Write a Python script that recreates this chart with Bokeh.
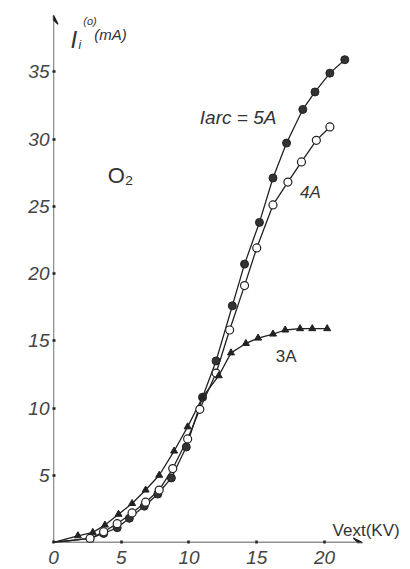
from bokeh.plotting import figure
from bokeh.models import Range1d, FixedTicker, Label, Arrow, VeeHead
from bokeh.embed import file_html
from bokeh.resources import INLINE

# Data (Vext in kV, Ii in mA)
v_5a = [0, 2.7, 3.7, 4.7, 5.6, 6.7, 7.7, 8.7, 9.8, 11.0, 12.0, 13.2, 14.1, 15.2, 16.2, 17.2, 18.4, 19.3, 20.4, 21.5]
i_5a = [0, 0.3, 0.67, 1.1, 1.8, 2.7, 3.6, 4.8, 7.1, 10.8, 13.5, 17.6, 20.7, 23.8, 27.1, 29.7, 32.2, 33.5, 34.9, 35.9]

v_4a = [0, 2.7, 3.7, 4.7, 5.8, 6.8, 7.8, 8.8, 9.9, 10.8, 12.0, 13.0, 14.1, 15.0, 16.2, 17.3, 18.3, 19.4, 20.4]
i_4a = [0, 0.3, 0.8, 1.4, 2.2, 3.0, 3.9, 5.5, 7.7, 9.9, 12.6, 15.8, 19.1, 21.9, 25.1, 26.8, 28.3, 29.9, 30.9]

v_3a = [0, 1.8, 2.9, 3.8, 4.8, 5.8, 6.8, 7.8, 8.9, 9.9, 11.0, 12.2, 13.1, 14.2, 15.1, 16.2, 17.1, 18.2, 19.1, 20.2]
i_3a = [0, 0.5, 0.75, 1.3, 2.1, 2.9, 3.9, 5.0, 6.8, 8.6, 10.8, 12.4, 14.1, 14.8, 15.2, 15.5, 15.8, 15.9, 15.9, 15.9]

x_ticks = [0, 5, 10, 15, 20]
y_ticks = [5, 10, 15, 20, 25, 30, 35]
x_axis_end = 22.8
y_axis_end = 39.2

INK = "#222222"
FONT = "Liberation Sans"

p = figure(width=410, height=569, output_backend="svg", toolbar_location=None,
           x_range=Range1d(0, 26.35), y_range=Range1d(0, 40.3),
           min_border_left=53, min_border_right=0, min_border_top=0, min_border_bottom=27)
p.outline_line_color = None
p.grid.visible = False
p.background_fill_color = "white"

for ax, ticks in ((p.xaxis[0], x_ticks), (p.yaxis[0], y_ticks)):
    ax.ticker = FixedTicker(ticks=ticks)
    ax.axis_line_color = None
    ax.major_tick_in = 2
    ax.major_tick_out = 1
    ax.major_tick_line_width = 2.5
    ax.major_tick_line_color = INK
    ax.minor_tick_line_color = None
    ax.major_label_text_font = FONT
    ax.major_label_text_font_style = "italic"
    ax.major_label_text_font_size = "19px"
    ax.major_label_text_color = "#444444"
p.xaxis.major_label_standoff = 7
p.yaxis.major_label_standoff = 3

# axis lines with arrow heads
p.add_layout(Arrow(end=VeeHead(size=9, line_color=INK, line_width=1.3), x_start=0, y_start=0,
                   x_end=x_axis_end, y_end=0, line_color=INK, line_width=1.3))
p.add_layout(Arrow(end=VeeHead(size=9, line_color=INK, line_width=1.3), x_start=0, y_start=0,
                   x_end=0, y_end=y_axis_end, line_color=INK, line_width=1.3))

# curves
p.line(v_5a, i_5a, line_color=INK, line_width=1.3)
p.line(v_4a, i_4a, line_color=INK, line_width=1.3)
p.line(v_3a, i_3a, line_color=INK, line_width=1.3)

p.scatter(v_5a[1:], i_5a[1:], marker="circle", size=8, fill_color="#333333", line_color=INK, line_width=1)
p.scatter(v_4a[1:], i_4a[1:], marker="circle", size=8, fill_color="white", line_color=INK, line_width=1.2)
p.scatter(v_3a[1:], i_3a[1:], marker="triangle", size=7, fill_color=INK, line_color=INK, line_width=1)

def lab(x, y, t, size, style="italic"):
    p.add_layout(Label(x=x, y=y, text=t, text_font=FONT, text_font_style=style,
                       text_font_size=size, text_color="#333333", text_baseline="alphabetic"))

lab(1.25, 37.4, "I", "24px")
lab(1.85, 37.0, "i", "12px")
lab(2.2, 38.8, "(o)", "11px")
lab(3.0, 37.8, "(mA)", "15px")
lab(4.0, 27.3, "O\u2082", "22px", "normal")
lab(10.8, 31.6, "Iarc = 5A", "19px")
lab(18.2, 26.0, "4A", "17px")
lab(16.4, 13.8, "3A", "17px", "normal")
lab(20.6, 0.9, "Vext(KV)", "17px", "normal")

open("out.html", "w").write(file_html(p, INLINE))
